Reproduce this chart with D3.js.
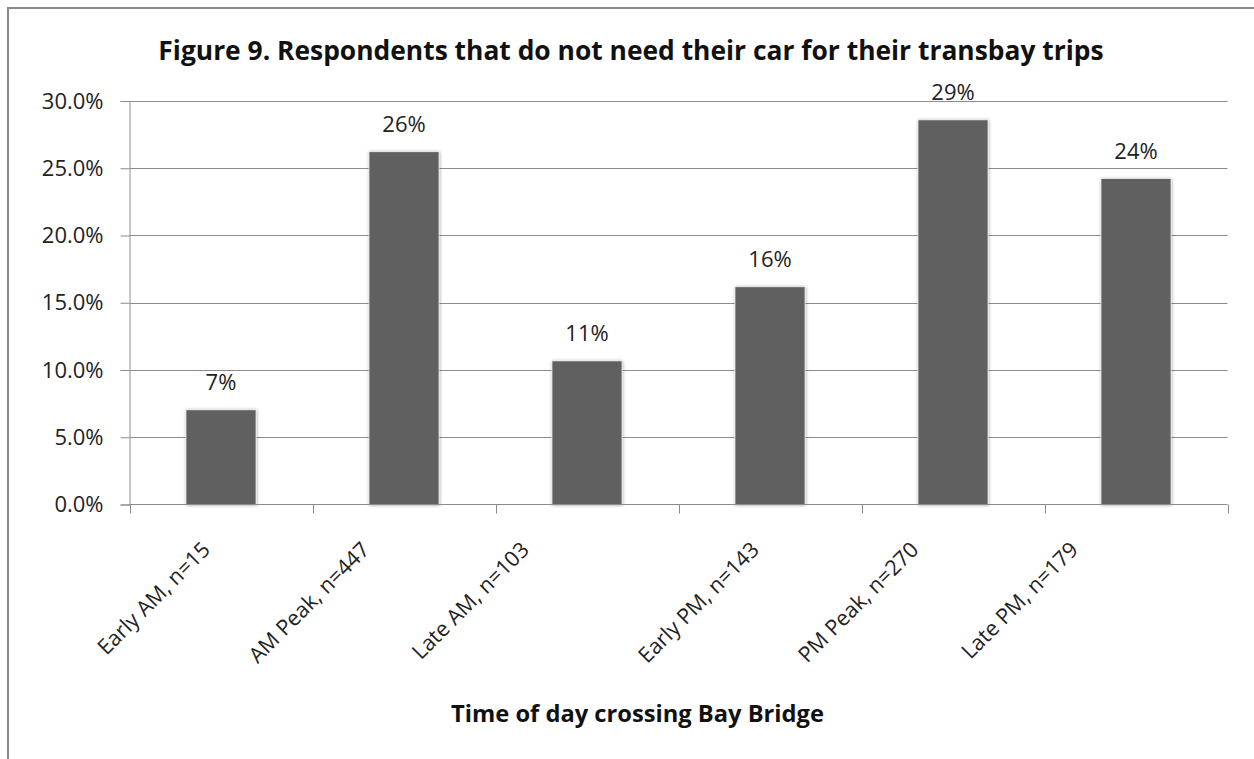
<!DOCTYPE html>
<html>
<head>
<meta charset="utf-8">
<script src="https://cdn.jsdelivr.net/npm/d3@7/dist/d3.min.js"></script>
<style>
  body { margin: 0; background: #fff; }
  text { font-family: "Open Sans", "DejaVu Sans", sans-serif; }
</style>
</head>
<body>
<svg id="chart" width="1254" height="759"></svg>
<script>
// Share of respondents, by time of day, who do not need their car for transbay trips
const categories = [
  "Early AM, n=15",
  "AM Peak, n=447",
  "Late AM, n=103",
  "Early PM, n=143",
  "PM Peak, n=270",
  "Late PM, n=179"
];
const shares = [0.0704, 0.2623, 0.1068, 0.1619, 0.286, 0.2423];
const yTicks = [0, 0.05, 0.10, 0.15, 0.20, 0.25, 0.30];

const titleText = "Figure 9. Respondents that do not need their car for their transbay trips";
const xTitleText = "Time of day crossing Bay Bridge";

const svg = d3.select("#chart");
const plot = { left: 129.5, right: 1227.5, top: 101, bottom: 504.5 };

// Shadow used around each column
const defs = svg.append("defs");
const f = defs.append("filter").attr("id", "barShadow")
  .attr("x", "-20%").attr("y", "-20%").attr("width", "140%").attr("height", "140%");
f.append("feDropShadow").attr("dx", 0.5).attr("dy", 0.5)
  .attr("stdDeviation", 1.6).attr("flood-color", "#000").attr("flood-opacity", 0.35);

// Chart frame
svg.append("rect")
  .attr("x", 8).attr("y", 8).attr("width", 1400).attr("height", 900)
  .attr("fill", "none").attr("stroke", "#8a8a8a").attr("stroke-width", 2);

const x = d3.scaleBand()
  .domain(categories)
  .range([plot.left, plot.right])
  .paddingInner(0.617)
  .paddingOuter(0.3085);

const y = d3.scaleLinear()
  .domain([0, 0.30])
  .range([plot.bottom, plot.top]);

// Horizontal gridlines
svg.append("g")
  .selectAll("line")
  .data(yTicks.filter(d => d > 0))
  .join("line")
  .attr("x1", plot.left).attr("x2", plot.right)
  .attr("y1", d => Math.round(y(d)) + 0.5).attr("y2", d => Math.round(y(d)) + 0.5)
  .attr("stroke", "#8c8c8c").attr("stroke-width", 1);

// Value axis
const yAxis = svg.append("g")
  .attr("transform", `translate(${plot.left},0)`)
  .call(d3.axisLeft(y).tickValues(yTicks).tickSize(9).tickPadding(17)
    .tickFormat(d3.format(".1%")));
yAxis.select(".domain").attr("stroke", "#8c8c8c");
yAxis.selectAll(".tick line").attr("stroke", "#8c8c8c");
yAxis.selectAll(".tick text")
  .attr("font-size", 22).attr("fill", "#222")
  .style("font-family", "'Open Sans', sans-serif");

// Columns
svg.append("g")
  .selectAll("rect")
  .data(shares)
  .join("rect")
  .attr("x", (d, i) => x(categories[i]))
  .attr("y", d => y(d))
  .attr("width", x.bandwidth())
  .attr("height", d => y(0) - y(d))
  .attr("fill", "#616161")
  .attr("stroke", "#f2f2f2").attr("stroke-width", 0.8)
  .attr("filter", "url(#barShadow)");

// Category axis line and ticks between categories
const axisG = svg.append("g");
axisG.append("line")
  .attr("x1", plot.left).attr("x2", plot.right)
  .attr("y1", plot.bottom).attr("y2", plot.bottom)
  .attr("stroke", "#8c8c8c");
axisG.selectAll("line.tick")
  .data(d3.range(categories.length + 1))
  .join("line").attr("class", "tick")
  .attr("x1", i => Math.round(plot.left + i * x.step()) + 0.5)
  .attr("x2", i => Math.round(plot.left + i * x.step()) + 0.5)
  .attr("y1", plot.bottom).attr("y2", plot.bottom + 9)
  .attr("stroke", "#8c8c8c");

// Value labels above columns
const fmtShare = d3.format(".0%");
svg.append("g")
  .selectAll("text")
  .data(shares)
  .join("text")
  .attr("x", (d, i) => x(categories[i]) + x.bandwidth() / 2)
  .attr("y", d => y(d) - 19.5)
  .attr("text-anchor", "middle")
  .attr("font-size", 22).attr("fill", "#222")
  .text(d => fmtShare(d));

// Rotated category labels; each group of three runs on a slightly tighter rhythm
svg.append("g")
  .selectAll("text")
  .data(categories)
  .join("text")
  .attr("transform", (d, i) => {
    const cx = x(d) + x.bandwidth() / 2 - 9.5 - (i % 3) * 23.5;
    return `translate(${cx},551) rotate(-45)`;
  })
  .attr("text-anchor", "end")
  .attr("font-size", 21.5).attr("fill", "#222")
  .text(d => d);

// Titles
svg.append("text")
  .attr("x", 631).attr("y", 60)
  .attr("text-anchor", "middle")
  .attr("font-size", 26.4).attr("font-weight", 700).attr("fill", "#111")
  .text(titleText);

svg.append("text")
  .attr("x", 637.5).attr("y", 722)
  .attr("text-anchor", "middle")
  .attr("font-size", 23.7).attr("font-weight", 700).attr("fill", "#111")
  .text(xTitleText);
</script>
</body>
</html>
